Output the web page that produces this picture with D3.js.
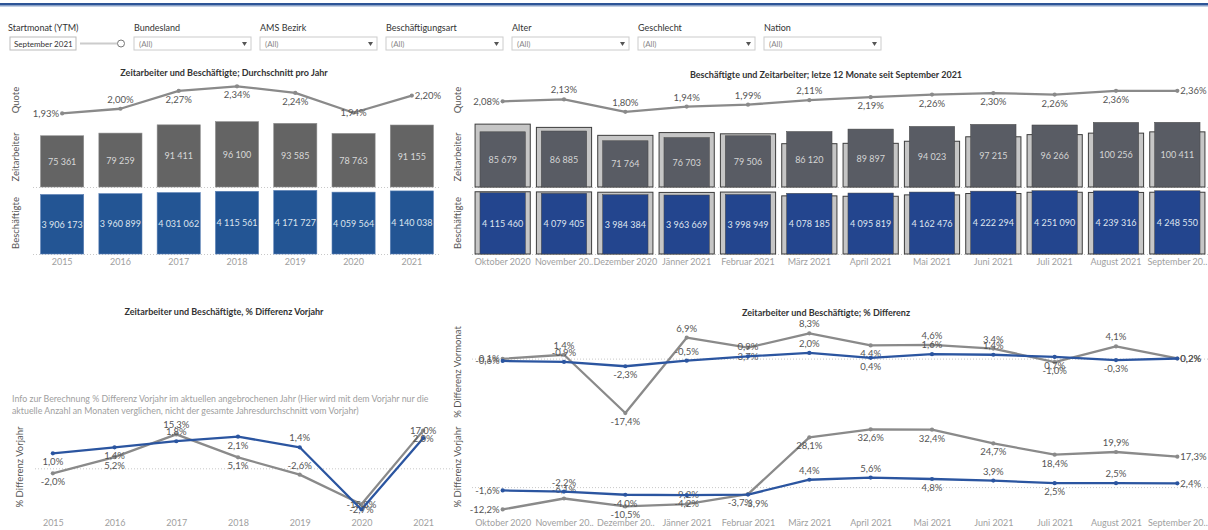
<!DOCTYPE html>
<html>
<head>
<meta charset="utf-8">
<script src="https://cdn.jsdelivr.net/npm/d3@7"></script>
<style>
  body { margin: 0; background: #fff; }
  svg text { font-family: Lato, "Noto Sans", sans-serif; }
</style>
</head>
<body>
<svg id="dash" width="1208" height="530"></svg>
<script>
// ---- data ----
const years = ['2015', '2016', '2017', '2018', '2019', '2020', '2021'];
const yearQuote = [1.93, 2.00, 2.27, 2.34, 2.24, 1.94, 2.20];
const yearZeit = [75361, 79259, 91411, 96100, 93585, 78763, 91155];
const yearBesch = [3906173, 3960899, 4031062, 4115561, 4171727, 4059564, 4140038];
const yearDiffZeit = [-2.0, 5.2, 15.3, 5.1, -2.6, -15.8, 17.0];
const yearDiffBesch = [1.0, 1.4, 1.8, 2.1, 1.4, -2.7, 2.0];

const months = ['Oktober 2020', 'November 2020', 'Dezember 2020', 'Jänner 2021', 'Februar 2021', 'März 2021',
                'April 2021', 'Mai 2021', 'Juni 2021', 'Juli 2021', 'August 2021', 'September 2021'];
const monthTicksTop = ['Oktober 2020', 'November 20..', 'Dezember 2020', 'Jänner 2021', 'Februar 2021', 'März 2021',
                       'April 2021', 'Mai 2021', 'Juni 2021', 'Juli 2021', 'August 2021', 'September 20..'];
const monthTicksBottom = ['Oktober 2020', 'November 20..', 'Dezember 20..', 'Jänner 2021', 'Februar 2021', 'März 2021',
                          'April 2021', 'Mai 2021', 'Juni 2021', 'Juli 2021', 'August 2021', 'September 20..'];
const monthQuote = [2.08, 2.13, 1.80, 1.94, 1.99, 2.11, 2.19, 2.26, 2.30, 2.26, 2.36, 2.36];
const monthZeit = [85679, 86885, 71764, 76703, 79506, 86120, 89897, 94023, 97215, 96266, 100256, 100411];
const monthZeitPrev = [97580, 92530, 80180, 84480, 82560, 67230, 67800, 71010, 77960, 81310, 83620, 85600];
const monthBesch = [4115460, 4079405, 3984384, 3963669, 3998949, 4078185, 4095819, 4162476, 4222294, 4251090, 4239316, 4248550];
const monthBeschPrev = [4182380, 4171170, 4150400, 4137440, 4161240, 3906310, 3878620, 3971830, 4063810, 4147400, 4135920, 4149760];
const vormonatZeit = [0.1, 1.4, -17.4, 6.9, 3.7, 8.3, 4.4, 4.6, 3.4, -1.0, 4.1, 0.2];
const vormonatBesch = [-0.6, -0.9, -2.3, -0.5, 0.9, 2.0, 0.4, 1.6, 1.4, 0.7, -0.3, 0.2];
const vorjahrZeit = [-12.2, -6.1, -10.5, -9.2, -3.7, 28.1, 32.6, 32.4, 24.7, 18.4, 19.9, 17.3];
const vorjahrBesch = [-1.6, -2.2, -4.0, -4.2, -3.9, 4.4, 5.6, 4.8, 3.9, 2.5, 2.5, 2.4];

const filterNames = ['Bundesland', 'AMS Bezirk', 'Beschäftigungsart', 'Alter', 'Geschlecht', 'Nation'];

// label sides: a above, b below, l left, r right, c on point, L/R below shifted left/right
const sideYearQuote = ['l', 'a', 'b', 'b', 'b', 'c', 'r'];
const sideMonthQuote = ['l', 'a', 'a', 'a', 'a', 'a', 'b', 'b', 'b', 'b', 'b', 'r'];
const sideVormonatZeit = ['l', 'a', 'b', 'a', 'b', 'a', 'b', 'a', 'a', 'b', 'a', 'r'];
const sideVormonatBesch = ['l', 'a', 'b', 'a', 'a', 'a', 'b', 'a', 'a', 'b', 'b', 'r'];
const sideVorjahrZeit = ['l', 'a', 'b', 'a', 'L', 'b', 'b', 'b', 'b', 'b', 'a', 'r'];
const sideVorjahrBesch = ['l', 'a', 'b', 'b', 'R', 'a', 'a', 'b', 'a', 'b', 'a', 'r'];
const sideYearDiff = ['b', 'b', 'a', 'b', 'a', 'c', 'c'];

// ---- helpers ----
const de = d3.formatLocale({decimal: ',', thousands: ' ', grouping: [3], currency: ['', '€'], minus: '-'});
const fmtInt = de.format(',d');
const fmtP1 = v => de.format('.1f')(v) + '%';
const fmtP2 = v => de.format('.2f')(v) + '%';

const GREY_LINE = '#8a8a8a';
const BLUE_LINE = '#2b55a0';
const LABEL = '#555';

const svg = d3.select('#dash');
svg.append('rect').attr('width', 1208).attr('height', 530).attr('fill', '#fff');

function title(x, y, txt) {
    svg.append('text').attr('x', x).attr('y', y).attr('text-anchor', 'middle')
        .attr('fill', '#333').style('font-size', '9px').style('font-weight', 'bold').text(txt);
}

function rowLabel(x, y, txt) {
    svg.append('text').attr('transform', `translate(${x},${y}) rotate(-90)`)
        .attr('text-anchor', 'middle').attr('dy', '0.35em')
        .attr('fill', LABEL).style('font-size', '9.5px').text(txt);
}

function dotted(x1, x2, y) {
    svg.append('line').attr('x1', x1).attr('x2', x2).attr('y1', y).attr('y2', y)
        .attr('stroke', '#c8c8c8').attr('stroke-dasharray', '1,2');
}

function xAxis(scale, y, fmt) {
    const ax = d3.axisBottom(scale).tickSize(0).tickPadding(0);
    if (fmt) ax.tickFormat(fmt);
    const g = svg.append('g').attr('transform', `translate(0,${y})`).call(ax);
    g.select('.domain').remove();
    g.selectAll('text').attr('fill', '#a0a0a0').style('font-size', '9px')
        .style('font-family', 'Lato, "Noto Sans", sans-serif');
}

const labelDx = {l: -3, r: 3, L: -8, R: 8};
const labelDy = {a: -6, b: 12, L: 12, R: 12};
const labelAnchor = {l: 'end', r: 'start'};

function lineSeries(xs, yScale, values, color, sides, fmt) {
    const pts = values.map((v, i) => [xs[i], yScale(v)]);
    svg.append('path').datum(pts).attr('d', d3.line())
        .attr('fill', 'none').attr('stroke', color).attr('stroke-width', 2.3).attr('stroke-linejoin', 'round');
    svg.append('g').selectAll('circle').data(pts).join('circle')
        .attr('cx', d => d[0]).attr('cy', d => d[1]).attr('r', 2.1).attr('fill', color);
    svg.append('g').selectAll('text').data(values).join('text')
        .attr('x', (v, i) => pts[i][0] + (labelDx[sides[i]] || 0))
        .attr('y', (v, i) => pts[i][1] + (labelDy[sides[i]] !== undefined ? labelDy[sides[i]] : 3.5))
        .attr('text-anchor', (v, i) => labelAnchor[sides[i]] || 'middle')
        .attr('fill', LABEL).style('font-size', '9.5px')
        .text(fmt);
}

// ---- header / filters ----
svg.append('rect').attr('x', 0).attr('y', 3).attr('width', 1208).attr('height', 2).attr('fill', '#2d5597');
svg.append('rect').attr('x', 0).attr('y', 5).attr('width', 1208).attr('height', 1.5).attr('fill', '#8aa2c8');

svg.append('text').attr('x', 8).attr('y', 31).attr('fill', '#333').style('font-size', '9px').text('Startmonat (YTM)');
svg.append('rect').attr('x', 10).attr('y', 37).attr('width', 66).attr('height', 13)
    .attr('fill', '#fff').attr('stroke', '#bbb');
svg.append('text').attr('x', 14).attr('y', 46.5).attr('fill', '#333').style('font-size', '8px').text('September 2021');
svg.append('line').attr('x1', 80).attr('x2', 117).attr('y1', 43.5).attr('y2', 43.5).attr('stroke', '#ccc').attr('stroke-width', 2);
svg.append('circle').attr('cx', 121).attr('cy', 43.5).attr('r', 3.5).attr('fill', '#fff').attr('stroke', '#777');

const xFilter = d3.scalePoint().domain(filterNames).range([134, 764]);
filterNames.forEach(name => {
    const fx = xFilter(name);
    svg.append('text').attr('x', fx).attr('y', 31).attr('fill', '#333').style('font-size', '9px').text(name);
    svg.append('rect').attr('x', fx).attr('y', 37).attr('width', 117).attr('height', 13)
        .attr('fill', '#fff').attr('stroke', '#ccc');
    svg.append('text').attr('x', fx + 5).attr('y', 46.5).attr('fill', '#888').style('font-size', '8px').text('(All)');
    svg.append('path').attr('d', `M${fx + 108},42 l5,0 l-2.5,4 z`).attr('fill', '#555');
});

// ---- top-left: Durchschnitt pro Jahr ----
title(224, 76, 'Zeitarbeiter und Beschäftigte; Durchschnitt pro Jahr');
rowLabel(16, 100, 'Quote');
rowLabel(16, 157, 'Zeitarbeiter');
rowLabel(16, 223, 'Beschäftigte');

const xYear = d3.scaleBand().domain(years).range([33, 441]).paddingInner(0.26).paddingOuter(0.13);
const yQuoteYear = d3.scaleLinear().domain([1.80, 2.45]).range([122, 79]);
const yZeitYear = d3.scaleLinear().domain([0, 100000]).range([187, 119]);
const yBeschYear = d3.scaleLinear().domain([0, 4200000]).range([254, 190]);

dotted(33, 441, 187.5);
dotted(33, 441, 254.5);

svg.append('g').selectAll('rect').data(yearZeit).join('rect')
    .attr('x', (d, i) => xYear(years[i])).attr('width', xYear.bandwidth())
    .attr('y', d => yZeitYear(d)).attr('height', d => yZeitYear(0) - yZeitYear(d))
    .attr('fill', '#646464').attr('stroke', '#8c8c8c').attr('stroke-width', 0.6);
svg.append('g').selectAll('text').data(yearZeit).join('text')
    .attr('x', (d, i) => xYear(years[i]) + xYear.bandwidth() / 2)
    .attr('y', d => (yZeitYear(d) + yZeitYear(0)) / 2 + 3.5)
    .attr('text-anchor', 'middle').attr('fill', '#d8d8d8').style('font-size', '9px').text(fmtInt);

svg.append('g').selectAll('rect').data(yearBesch).join('rect')
    .attr('x', (d, i) => xYear(years[i])).attr('width', xYear.bandwidth())
    .attr('y', d => yBeschYear(d)).attr('height', d => yBeschYear(0) - yBeschYear(d))
    .attr('fill', '#235594').attr('stroke', '#5b80b5').attr('stroke-width', 0.6);
svg.append('g').selectAll('text').data(yearBesch).join('text')
    .attr('x', (d, i) => xYear(years[i]) + xYear.bandwidth() / 2)
    .attr('y', d => (yBeschYear(d) + yBeschYear(0)) / 2 + 3.5)
    .attr('text-anchor', 'middle').attr('fill', '#dde4ee').style('font-size', '9px').text(fmtInt);

lineSeries(years.map(y => xYear(y) + xYear.bandwidth() / 2), yQuoteYear, yearQuote, GREY_LINE, sideYearQuote, fmtP2);
xAxis(xYear, 259);

// ---- top-right: letzte 12 Monate ----
title(826, 78, 'Beschäftigte und Zeitarbeiter; letze 12 Monate seit September 2021');
rowLabel(458, 100, 'Quote');
rowLabel(458, 157, 'Zeitarbeiter');
rowLabel(458, 223, 'Beschäftigte');

const xMonth = d3.scaleBand().domain(months).range([472, 1208]).paddingInner(0.26).paddingOuter(0.13);
const yQuoteMonth = d3.scaleLinear().domain([1.50, 2.65]).range([123, 80]);
const yZeitMonth = d3.scaleLinear().domain([0, 104000]).range([187, 120]);
const yBeschMonth = d3.scaleLinear().domain([0, 4300000]).range([254, 190]);
const mid = m => xMonth(m) + xMonth.bandwidth() / 2;
const refW = xMonth.step() * 0.9;

dotted(472, 1208, 187.5);
dotted(472, 1208, 254.5);

function monthBars(cur, prev, y, fill, labelFill) {
    svg.append('g').selectAll('rect').data(prev).join('rect')
        .attr('x', (d, i) => mid(months[i]) - refW / 2).attr('width', refW)
        .attr('y', d => y(d)).attr('height', d => y(0) - y(d))
        .attr('fill', '#c6c6c6').attr('stroke', '#3c3c3c').attr('stroke-width', 1);
    svg.append('g').selectAll('rect').data(cur).join('rect')
        .attr('x', (d, i) => xMonth(months[i])).attr('width', xMonth.bandwidth())
        .attr('y', d => y(d)).attr('height', d => y(0) - y(d))
        .attr('fill', fill).attr('stroke', '#444').attr('stroke-width', 0.5);
    svg.append('g').selectAll('text').data(cur).join('text')
        .attr('x', (d, i) => mid(months[i]))
        .attr('y', d => (y(d) + y(0)) / 2 + 3.5)
        .attr('text-anchor', 'middle').attr('fill', labelFill).style('font-size', '9px').text(fmtInt);
}
monthBars(monthZeit, monthZeitPrev, yZeitMonth, '#595c64', '#d4d4d4');
monthBars(monthBesch, monthBeschPrev, yBeschMonth, '#23458e', '#dfe4ee');

lineSeries(months.map(mid), yQuoteMonth, monthQuote, GREY_LINE, sideMonthQuote, fmtP2);
xAxis(xMonth, 259, (d, i) => monthTicksTop[i]);

// ---- bottom-left: % Differenz Vorjahr (years) ----
title(224, 315, 'Zeitarbeiter und Beschäftigte, % Differenz Vorjahr');
svg.append('text').attr('x', 12).attr('y', 402).attr('fill', '#a0a0a0').style('font-size', '8.8px')
    .text('Info zur Berechnung % Differenz Vorjahr im aktuellen angebrochenen Jahr (Hier wird mit dem Vorjahr nur die');
svg.append('text').attr('x', 12).attr('y', 414).attr('fill', '#a0a0a0').style('font-size', '8.8px')
    .text('aktuelle Anzahl an Monaten verglichen, nicht der gesamte Jahresdurchschnitt vom Vorjahr)');
rowLabel(20, 467, '% Differenz Vorjahr');

const xYearPt = d3.scalePoint().domain(years).range([22, 454]).padding(0.5);
const yDiffZeitYear = d3.scaleLinear().domain([-21, 19.5]).range([516, 425]);
const yDiffBeschYear = d3.scaleLinear().domain([-3.13, 2.87]).range([516, 425]);
dotted(35, 454, yDiffZeitYear(0));

lineSeries(years.map(y => xYearPt(y)), yDiffZeitYear, yearDiffZeit, GREY_LINE, sideYearDiff, fmtP1);
lineSeries(years.map(y => xYearPt(y)), yDiffBeschYear, yearDiffBesch, BLUE_LINE, sideYearDiff, fmtP1);
xAxis(xYearPt, 520);

// ---- bottom-right: % Differenz (months) ----
title(826, 316, 'Zeitarbeiter und Beschäftigte; % Differenz');
rowLabel(458, 372, '% Differenz Vormonat');
rowLabel(458, 467, '% Differenz Vorjahr');

const xMonthPt = d3.scalePoint().domain(months).range([472, 1208]).padding(0.5);
const yVormonat = d3.scaleLinear().domain([-19, 11]).range([418, 325]);
const yVorjahr = d3.scaleLinear().domain([-17, 35]).range([518, 425]);
dotted(472, 1208, yVormonat(0));
dotted(472, 1208, yVorjahr(0));

const mx = months.map(m => xMonthPt(m));
lineSeries(mx, yVormonat, vormonatZeit, GREY_LINE, sideVormonatZeit, fmtP1);
lineSeries(mx, yVormonat, vormonatBesch, BLUE_LINE, sideVormonatBesch, fmtP1);
lineSeries(mx, yVorjahr, vorjahrZeit, GREY_LINE, sideVorjahrZeit, fmtP1);
lineSeries(mx, yVorjahr, vorjahrBesch, BLUE_LINE, sideVorjahrBesch, fmtP1);
xAxis(xMonthPt, 520, (d, i) => monthTicksBottom[i]);
</script>
</body>
</html>
